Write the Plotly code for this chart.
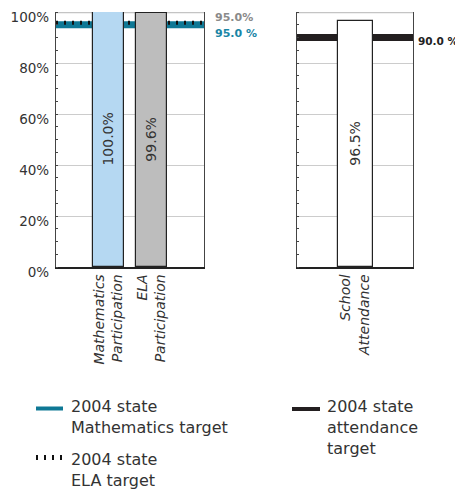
import plotly.graph_objects as go

# ---- data ----
part_categories = ["<i>Mathematics<br>Participation</i>", "<i>ELA<br>Participation</i>"]
part_values = [100.0, 99.6]
part_colors = ["#B5D8F2", "#BDBDBD"]
att_categories = ["<i>School<br>Attendance</i>"]
att_values = [96.5]
math_target = 95.0
ela_target = 95.0
att_target = 90.0
y_ticks = [0, 20, 40, 60, 80, 100]
y_ticklabels = ["0%", "20%", "40%", "60%", "80%", "100%"]

# page body has an 8px margin; figure is sized to fit the 463x490 window
OFF = 8
W, H = 463 - OFF, 490 - OFF
FONT = "DejaVu Sans, Verdana, sans-serif"
TEAL = "#0E7895"

def px_x(p):
    return (p - OFF) / W

def px_y(p):
    return 1 - (p - OFF) / H

fig = go.Figure()

fig.add_trace(go.Bar(
    x=[0, 1], y=part_values, width=0.71,
    marker=dict(color=part_colors, line=dict(color="#222", width=1.2)),
    text=[f"{v:.1f}%" for v in part_values], textposition="inside",
    insidetextanchor="middle", textangle=-90,
    textfont=dict(family=FONT, size=14, color="#333"),
    xaxis="x", yaxis="y", showlegend=False, hoverinfo="skip"))

fig.add_trace(go.Bar(
    x=[0], y=att_values, width=0.7,
    marker=dict(color="white", line=dict(color="#222", width=1.2)),
    text=[f"{v:.1f}%" for v in att_values], textposition="inside",
    insidetextanchor="middle", textangle=-90,
    textfont=dict(family=FONT, size=14, color="#333"),
    xaxis="x2", yaxis="y2", showlegend=False, hoverinfo="skip"))

ydom = [px_y(267), px_y(12)]
yax = dict(range=[0, 100], tickvals=y_ticks, ticktext=y_ticklabels, showgrid=True,
           gridcolor="#CCCCCC", gridwidth=1, showline=True, linecolor="#444",
           linewidth=1.2, mirror=True, ticks="", zeroline=False,
           domain=ydom, automargin=False, ticklabeloverflow="allow",
           ticklabelshift=5, ticklabelstandoff=3,
           minor=dict(ticks="inside", ticklen=2, dtick=5, tickcolor="#444", showgrid=False),
           tickfont=dict(family=FONT, size=13.5, color="#333"))

fig.update_layout(
    width=W, height=H, margin=dict(l=0, r=0, t=0, b=0),
    paper_bgcolor="white", plot_bgcolor="white", bargap=0,
    xaxis=dict(domain=[px_x(56), px_x(204)], range=[-1.2, 2.2],
               tickvals=[0, 1], ticktext=part_categories, tickangle=-90,
               showline=True, linecolor="#222", linewidth=1.5, showgrid=False,
               zeroline=False, ticks="", automargin=False, anchor="y",
               tickfont=dict(family=FONT, size=14, color="#333")),
    yaxis=dict(**yax, anchor="x"),
    xaxis2=dict(domain=[px_x(297), px_x(413)], range=[-1.16, 1.16],
                tickvals=[0], ticktext=att_categories, tickangle=-90,
                showline=True, linecolor="#222", linewidth=1.5, showgrid=False,
                zeroline=False, ticks="", automargin=False, anchor="y2",
                tickfont=dict(family=FONT, size=14, color="#333")),
    yaxis2=dict(**{**yax, "showticklabels": False}, anchor="x2"),
)

shapes = [
    # top gridlines
    dict(type="line", xref="x domain", yref="y", x0=0, x1=1, y0=y_ticks[-1], y1=y_ticks[-1],
         line=dict(color="#C4C4C4", width=2.5), layer="below"),
    dict(type="line", xref="x2 domain", yref="y2", x0=0, x1=1, y0=y_ticks[-1], y1=y_ticks[-1],
         line=dict(color="#C4C4C4", width=2.5), layer="below"),
    # target lines
    dict(type="line", xref="x domain", yref="y", x0=0, x1=1, y0=math_target, y1=math_target,
         line=dict(color=TEAL, width=7), layer="below"),
    dict(type="line", xref="x domain", yref="y", x0=0, x1=1, y0=ela_target + 0.8, y1=ela_target + 0.8,
         line=dict(color="#111", width=4, dash="2px,6px"), layer="below"),
    dict(type="line", xref="x2 domain", yref="y2", x0=0, x1=1, y0=att_target, y1=att_target,
         line=dict(color="#231F20", width=7), layer="below"),
    # legend samples
    dict(type="line", xref="paper", yref="paper", x0=px_x(36), x1=px_x(63), y0=px_y(408.5), y1=px_y(408.5),
         line=dict(color=TEAL, width=4)),
    dict(type="line", xref="paper", yref="paper", x0=px_x(36), x1=px_x(63), y0=px_y(457.5), y1=px_y(457.5),
         line=dict(color="#111", width=5, dash="2px,6px")),
    dict(type="line", xref="paper", yref="paper", x0=px_x(292), x1=px_x(320), y0=px_y(409), y1=px_y(409),
         line=dict(color="#231F20", width=4)),
]
fig.update_layout(shapes=shapes)

ann = [
    dict(x=px_x(214), y=px_y(17), text=f"<b>{ela_target:.1f}%</b>", font=dict(color="#8A8A8A", size=11, family=FONT)),
    dict(x=px_x(214), y=px_y(33), text=f"<b>{math_target:.1f} %</b>", font=dict(color="#1A86A6", size=11, family=FONT)),
    dict(x=px_x(417), y=px_y(41), text=f"<b>{att_target:.1f} %</b>", font=dict(color="#222", size=10.5, family=FONT)),
]
for a in ann:
    a.update(xref="paper", yref="paper", xanchor="left", yanchor="middle", showarrow=False, borderpad=0)

leg = [
    (69, 395, "2004 state<br>Mathematics target"),
    (69, 448, "2004 state<br>ELA target"),
    (325, 395, "2004 state<br>attendance<br>target"),
]
for x, y, t in leg:
    ann.append(dict(x=px_x(x), y=px_y(y), text=t, xref="paper", yref="paper", xanchor="left",
                    yanchor="top", align="left", showarrow=False,
                    font=dict(family=FONT, size=16, color="#333")))
fig.update_layout(annotations=ann)

fig.write_html("out.html")
